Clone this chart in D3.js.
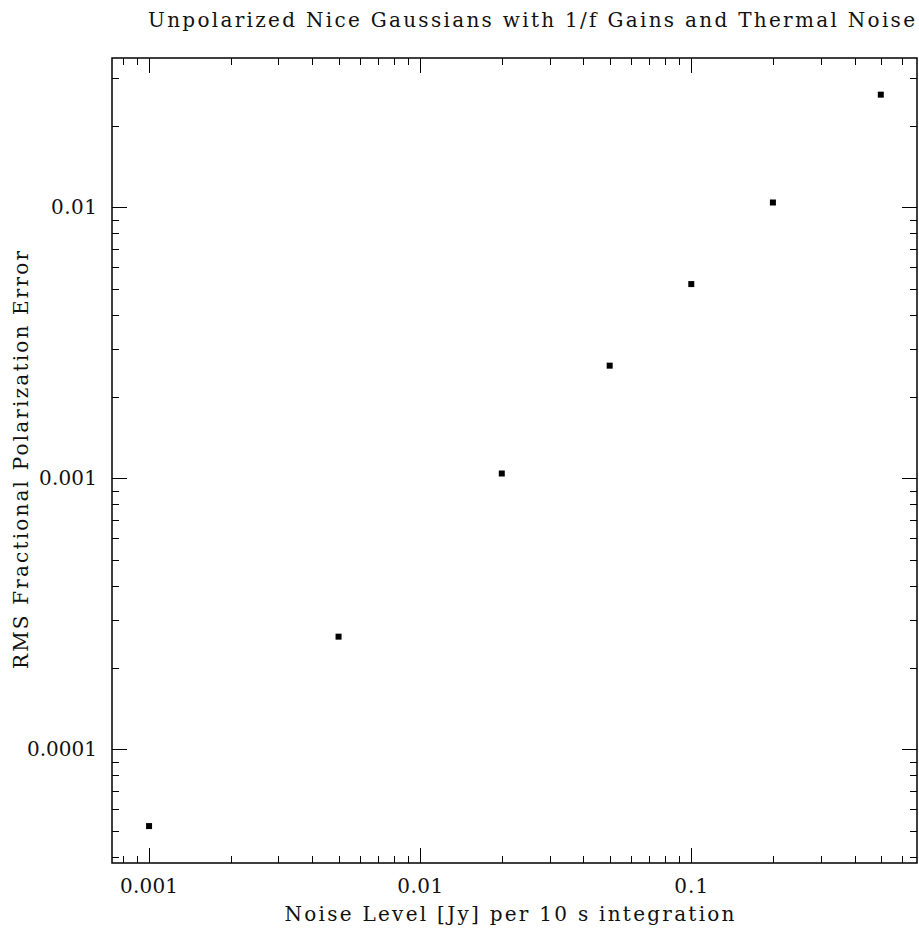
<!DOCTYPE html>
<html>
<head>
<meta charset="utf-8">
<script src="https://cdn.jsdelivr.net/npm/d3@7"></script>
<style>
  body { margin: 0; background: #fff; }
  text { font-family: "DejaVu Serif", "Liberation Serif", serif; fill: #111; }
</style>
</head>
<body>
<div id="chart"></div>
<script>
// data
const noiseLevels = [0.001, 0.005, 0.02, 0.05, 0.1, 0.2, 0.5];
const rmsErrors = [5.2e-5, 2.6e-4, 1.04e-3, 2.6e-3, 5.2e-3, 1.04e-2, 2.6e-2];
const xTickLabels = ["0.001", "0.01", "0.1"];
const yTickLabels = ["0.0001", "0.001", "0.01"];

const TITLE = "Unpolarized Nice Gaussians with 1/f Gains and Thermal Noise";
const X_LABEL = "Noise Level [Jy] per 10 s integration";
const Y_LABEL = "RMS Fractional Polarization Error";

const W = 919, H = 930;
const MARGIN = { top: 58, right: 2, bottom: 67, left: 112 };
const PW = W - MARGIN.left - MARGIN.right;
const PH = H - MARGIN.top - MARGIN.bottom;
const MAJOR = 15, MINOR = 7;
const CHAR_W = 12; // label glyph pitch, the plot font is wide
const FONT = 20;

const svg = d3.select("#chart").append("svg")
  .attr("width", W).attr("height", H);

const g = svg.append("g")
  .attr("transform", `translate(${MARGIN.left},${MARGIN.top})`);

const x = d3.scaleLog().domain([0.00073, 0.68]).range([0, PW]);
const y = d3.scaleLog().domain([3.8e-5, 0.0355]).range([PH, 0]);

// minor/major tick values
function logTicks(scale) {
  const [a, b] = scale.domain();
  const out = [];
  for (let e = Math.floor(Math.log10(a)); e <= Math.ceil(Math.log10(b)); e++) {
    for (let m = 1; m <= 9; m++) {
      const v = m * Math.pow(10, e);
      if (v >= a && v <= b) out.push({ v, major: m === 1 });
    }
  }
  return out;
}

const xt = logTicks(x), yt = logTicks(y);

// ticks on all four sides, pointing inward
const tickG = g.append("g").attr("stroke", "#000").attr("stroke-width", 1);
xt.forEach(t => {
  const px = Math.round(x(t.v)) + 0.5;
  const len = t.major ? MAJOR : MINOR;
  tickG.append("line").attr("x1", px).attr("x2", px).attr("y1", PH).attr("y2", PH - len);
  tickG.append("line").attr("x1", px).attr("x2", px).attr("y1", 0).attr("y2", len);
});
yt.forEach(t => {
  const py = Math.round(y(t.v)) + 0.5;
  const len = t.major ? MAJOR : MINOR;
  tickG.append("line").attr("y1", py).attr("y2", py).attr("x1", 0).attr("x2", len);
  tickG.append("line").attr("y1", py).attr("y2", py).attr("x1", PW).attr("x2", PW - len);
});

// frame
g.append("rect")
  .attr("x", 0).attr("y", 0).attr("width", PW).attr("height", PH)
  .attr("fill", "none").attr("stroke", "#000").attr("stroke-width", 1.5);

// tick labels
g.selectAll(".xlab").data(xTickLabels).join("text")
  .attr("class", "xlab")
  .attr("x", d => x(+d)).attr("y", PH + 30)
  .attr("text-anchor", "middle").attr("font-size", FONT)
  .attr("textLength", d => d.length * CHAR_W - 2).attr("lengthAdjust", "spacing")
  .text(d => d);

g.selectAll(".ylab").data(yTickLabels).join("text")
  .attr("class", "ylab")
  .attr("x", -15).attr("y", d => y(+d) + 7)
  .attr("text-anchor", "end").attr("font-size", FONT)
  .attr("textLength", d => d.length * CHAR_W - 2).attr("lengthAdjust", "spacing")
  .text(d => d);

// points
g.selectAll(".pt").data(noiseLevels).join("rect")
  .attr("class", "pt")
  .attr("x", d => x(d) - 3)
  .attr("y", (d, i) => y(rmsErrors[i]) - 3)
  .attr("width", 6).attr("height", 6)
  .attr("fill", "#000");

// axis titles
g.append("text")
  .attr("x", PW / 2 - 5).attr("y", PH + 58)
  .attr("text-anchor", "middle").attr("font-size", FONT)
  .attr("textLength", 450).attr("lengthAdjust", "spacing")
  .text(X_LABEL);

svg.append("text")
  .attr("transform", `translate(28,460) rotate(-90)`)
  .attr("text-anchor", "middle").attr("font-size", FONT)
  .attr("textLength", 418).attr("lengthAdjust", "spacing")
  .text(Y_LABEL);

svg.append("text")
  .attr("x", 148).attr("y", 27)
  .attr("font-size", FONT)
  .attr("textLength", 767).attr("lengthAdjust", "spacing")
  .text(TITLE);
</script>
</body>
</html>
